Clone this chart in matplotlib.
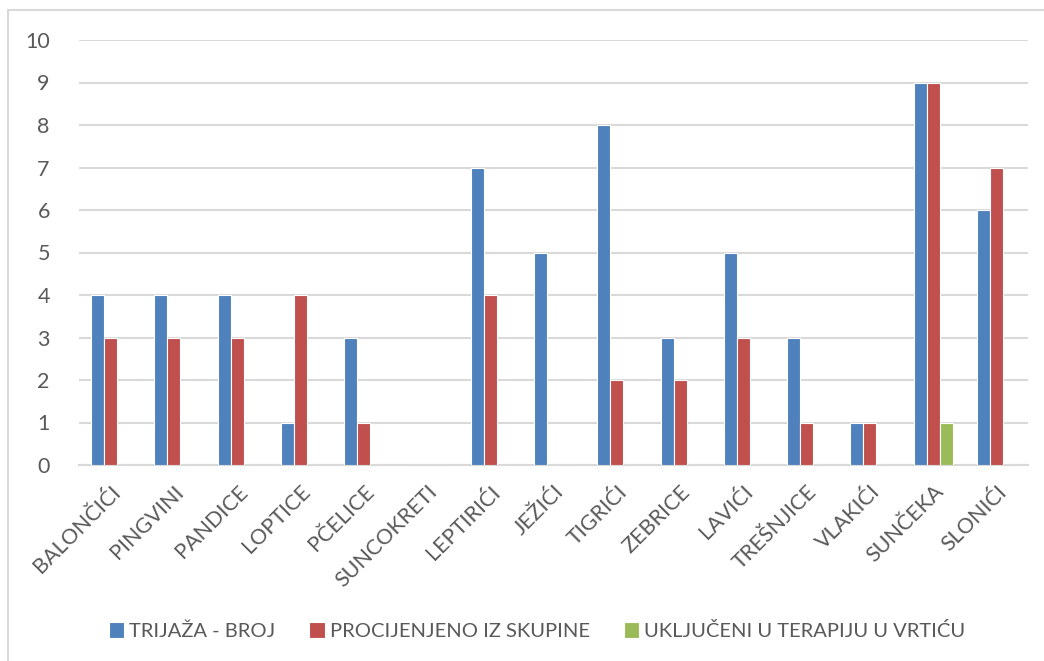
import matplotlib
matplotlib.use("Agg")
import matplotlib.pyplot as plt
import numpy as np
from matplotlib.patches import Rectangle

categories = ["BALONČIĆI", "PINGVINI", "PANDICE", "LOPTICE", "PČELICE", "SUNCOKRETI",
              "LEPTIRIĆI", "JEŽIĆI", "TIGRIĆI", "ZEBRICE", "LAVIĆI", "TREŠNJICE",
              "VLAKIĆI", "SUNČEKA", "SLONIĆI"]
trijaza = [4, 4, 4, 1, 3, 0, 7, 5, 8, 3, 5, 3, 1, 9, 6]
procijenjeno = [3, 3, 3, 4, 1, 0, 4, 0, 2, 2, 3, 1, 1, 9, 7]
ukljuceni = [0, 0, 0, 0, 0, 0, 0, 0, 0, 0, 0, 0, 0, 1, 0]
series_names = ["TRIJAŽA - BROJ", "PROCIJENJENO IZ SKUPINE", "UKLJUČENI U TERAPIJU U VRTIĆU"]
colors = ["#4F81BD", "#C0504D", "#9BBB59"]
yticks = list(range(0, 11))

plt.rcParams['font.family'] = ['Lato', 'DejaVu Sans']
fig = plt.figure(figsize=(10.44, 6.61), dpi=100)
ax = fig.add_axes([79/1044, 1-465/661, (1028-79)/1044, (465-40)/661])

# outer border (extends beyond right and bottom edges)
fig.patches.append(Rectangle((8/1044, -0.05), 1.0, 1-10/661 + 0.05, transform=fig.transFigure,
                             fill=False, edgecolor="#D9D9D9", linewidth=1.5))

x = np.arange(len(categories))
w = 0.205
for i, (vals, c) in enumerate(zip([trijaza, procijenjeno, ukljuceni], colors)):
    ax.bar(x + (i - 1) * w, vals, width=w, color=c, edgecolor="white", linewidth=0.8,
           label=series_names[i], zorder=3)

ax.set_xlim(-0.5, len(categories) - 0.5)
ax.set_ylim(0, 10)
ax.set_yticks(yticks)
ax.yaxis.grid(True, color="#D9D9D9", linewidth=1.5, zorder=0)
for s in ["top", "right", "left"]:
    ax.spines[s].set_visible(False)
ax.spines["bottom"].set_color("#D9D9D9")
ax.spines["bottom"].set_linewidth(1.5)
ax.tick_params(axis="both", length=0, colors="#595959", labelsize=15.5)
ax.tick_params(axis="y", pad=21)
ax.set_xticks(x)
ax.set_xticklabels(categories, rotation=45, ha="right", rotation_mode="anchor", fontsize=15.5)
ax.tick_params(axis="x", pad=12)

leg = fig.legend(loc="center", bbox_to_anchor=(537/1044, 1-631/661), ncol=3, frameon=False,
                 fontsize=14.5, handlelength=0.75, handleheight=0.85, handletextpad=0.25,
                 columnspacing=1.7, labelcolor="#595959")

fig.savefig("out.png", dpi=100)
